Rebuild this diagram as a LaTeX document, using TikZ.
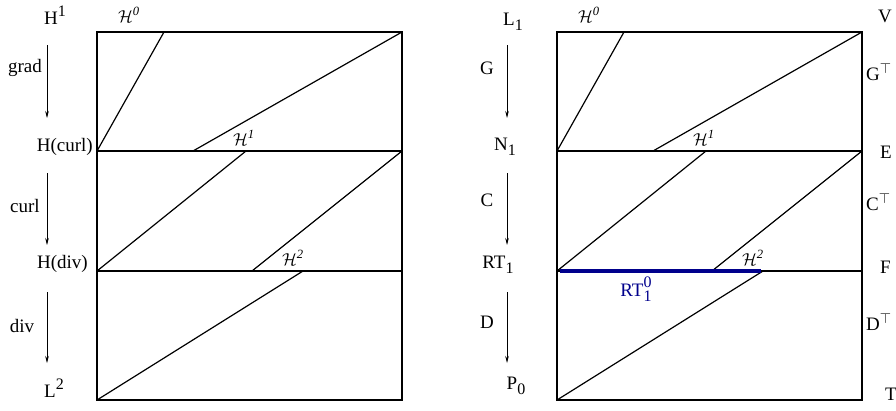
\documentclass[tikz,border=0pt]{standalone}
\usepackage{fontspec}
\setmainfont{Liberation Serif}
\usetikzlibrary{arrows.meta}
\definecolor{rtblue}{RGB}{0,0,140}
\newcommand\mysup[1]{\raisebox{0.42em}{\fontsize{16}{16}\selectfont #1}}
\newcommand\mysub[1]{\raisebox{-0.3em}{\fontsize{16}{16}\selectfont #1}}
\newcommand\mysubsup[2]{\rlap{\raisebox{-0.3em}{\fontsize{16}{16}\selectfont #1}}\raisebox{0.45em}{\fontsize{16}{16}\selectfont #2}}
\begin{document}
\begin{tikzpicture}[x=1pt,y=-1pt,
  lab/.style={font=\fontsize{19}{19}\selectfont, inner sep=0pt, anchor=base},
  hlab/.style={font=\fontsize{18}{18}\selectfont, inner sep=0pt, anchor=base},
  frame/.style={line width=1.5pt},
  seg/.style={line width=1.2pt},
  maparrow/.style={line width=0.6pt, -{Stealth[length=7pt,width=3.5pt]}}]
\useasboundingbox (0,0) rectangle (896,410);
% ---------- left box ----------
\draw[frame] (97,32) rectangle (402,400);
\draw[seg] (97,151) -- (402,151);
\draw[seg] (97,271) -- (402,271);
\draw[seg] (97,151) -- (164,32);
\draw[seg] (193,151) -- (402,32);
\draw[seg] (97,271) -- (246,151);
\draw[seg] (252,271) -- (402,151);
\draw[seg] (97,400) -- (303,271);
\node[hlab] (lh0) at (129,22) {$\mathcal{H}^{\mathit{0}}$};
\node[hlab] (lh1) at (244,145) {$\mathcal{H}^{\mathit{1}}$};
\node[hlab] (lh2) at (293,265) {$\mathcal{H}^{\mathit{2}}$};
% left labels
\node[lab] (H1) at (55,24) {H\mysup{1}};
\node[lab,anchor=base east] (Hcurl) at (93,151) {H(curl)};
\node[lab,anchor=base east] (Hdiv) at (88,268) {H(div)};
\node[lab] (L2) at (54,397) {L\mysup{2}};
\node[lab] (grad) at (25,72) {grad};
\node[lab] (curl) at (25,212) {curl};
\node[lab] (div) at (22,332) {div};
\coordinate (a1s) at (47,45);  \coordinate (a1e) at (47,118);
\coordinate (a2s) at (47,173); \coordinate (a2e) at (47,245);
\coordinate (a3s) at (47,292); \coordinate (a3e) at (47,363);
\draw[maparrow] (a1s) -- (a1e);
\draw[maparrow] (a2s) -- (a2e);
\draw[maparrow] (a3s) -- (a3e);
% ---------- right box ----------
\draw[frame] (557,32) rectangle (862,400);
\draw[seg] (557,151) -- (862,151);
\draw[seg] (557,271) -- (862,271);
\draw[seg] (557,151) -- (624,32);
\draw[seg] (653,151) -- (862,32);
\draw[seg] (557,271) -- (706,151);
\draw[seg] (712,271) -- (862,151);
\draw[seg] (557,400) -- (763,271);
\coordinate (rtA) at (560,271); \coordinate (rtB) at (761,271);
\draw[rtblue,line width=4pt] (rtA) -- (rtB);
\node[hlab] (rh0) at (589,22) {$\mathcal{H}^{\mathit{0}}$};
\node[hlab] (rh1) at (704,145) {$\mathcal{H}^{\mathit{1}}$};
\node[hlab] (rh2) at (753,265) {$\mathcal{H}^{\mathit{2}}$};
\node[lab,text=rtblue] (RT10) at (636,296) {RT\mysubsup{1}{0}};
% right-box left labels
\node[lab] (L1) at (513,25) {L\mysub{1}};
\node[lab] (N1) at (505,150) {N\mysub{1}};
\node[lab] (RT1) at (498,268) {RT\mysub{1}};
\node[lab] (P0) at (516,389) {P\mysub{0}};
\node[lab] (G) at (487,74) {G};
\node[lab] (C) at (487,206) {C};
\node[lab] (D) at (487,328) {D};
\coordinate (b1s) at (507,45);  \coordinate (b1e) at (507,118);
\coordinate (b2s) at (507,173); \coordinate (b2e) at (507,245);
\coordinate (b3s) at (507,292); \coordinate (b3e) at (507,363);
\draw[maparrow] (b1s) -- (b1e);
\draw[maparrow] (b2s) -- (b2e);
\draw[maparrow] (b3s) -- (b3e);
% right-box right labels
\node[lab,anchor=base west] (V) at (878,22) {V};
\node[lab,anchor=base west] (GT) at (866,80) {G$^{\top}$};
\node[lab,anchor=base west] (E) at (880,158) {E};
\node[lab,anchor=base west] (CT) at (866,210) {C$^{\top}$};
\node[lab,anchor=base west] (F) at (880,273) {F};
\node[lab,anchor=base west] (DT) at (866,330) {D$^{\top}$};
\node[lab,anchor=base west] (T) at (885,400) {T};
\end{tikzpicture}
\end{document}
